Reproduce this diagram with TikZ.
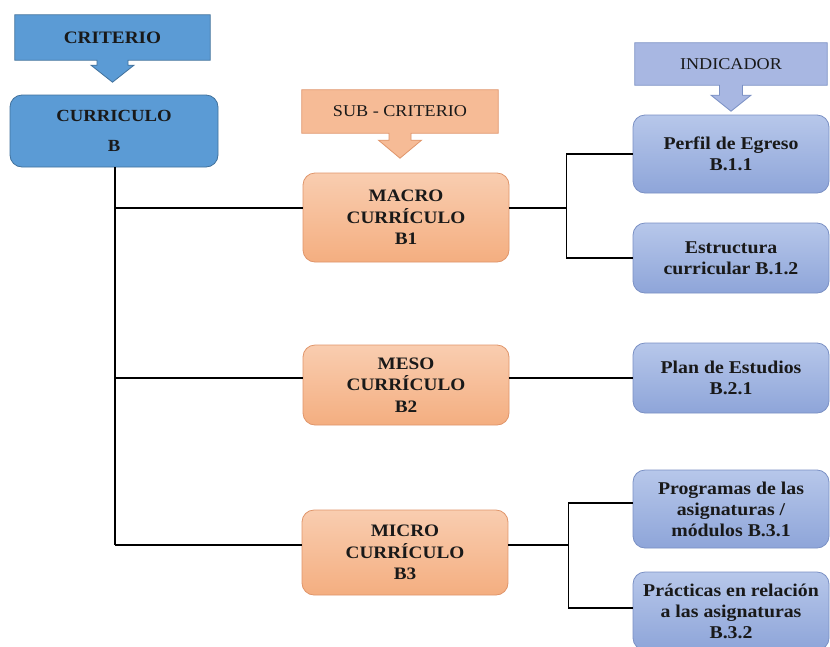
\documentclass[tikz,border=0pt]{standalone}
\usepackage{fontspec}
\setmainfont{Liberation Serif}[FakeStretch=1.1]
\usetikzlibrary{calc,backgrounds}
\definecolor{critblue}{HTML}{5B9BD5}
\definecolor{critedge}{HTML}{41719C}
\definecolor{orgtop}{HTML}{F9CDB0}
\definecolor{orgbot}{HTML}{F4AE80}
\definecolor{orgedge}{HTML}{E0956A}
\definecolor{subfill}{HTML}{F6BB96}
\definecolor{bluetop}{HTML}{B7C7EA}
\definecolor{bluebot}{HTML}{8EA5D9}
\definecolor{blueedge}{HTML}{7A90C4}
\definecolor{indfill}{HTML}{A8B7E2}
\newcommand\myarrowcallout[6]{%
  \begin{pgfonlayer}{background}
  \draw[#6] (#1.north west) -- (#1.north east) -- (#1.south east)
    -- ($(#1.south)+(#2,0)$) -- ++(0,#3) -- ($(#1.south)+(#4,#3)$)
    -- ($(#1.south)+(0,#3+#5)$) -- ($(#1.south)+(-#4,#3)$)
    -- ($(#1.south)+(-#2,#3)$) -- ($(#1.south)+(-#2,0)$)
    -- (#1.south west) -- cycle;
  \end{pgfonlayer}}
\tikzset{
  x=1pt, y=-1pt,
  lbl/.style={inner sep=0pt, align=center, text=black!90},
  callbox/.style={lbl, minimum width=#1},
  boxbase/.style={rounded corners=12pt, draw, line width=0.8pt, inner sep=0pt, align=center, text=black!90},
  currbox/.style={boxbase, fill=critblue, draw=critedge, minimum width=208pt, minimum height=72pt,
     font=\bfseries\fontsize{17}{21}\selectfont},
  subbox/.style={boxbase, top color=orgtop, bottom color=orgbot, draw=orgedge, minimum width=206pt,
     font=\bfseries\fontsize{17.5}{21.5}\selectfont},
  indbox/.style={boxbase, top color=bluetop, bottom color=bluebot, draw=blueedge, minimum width=196pt,
     font=\bfseries\fontsize{18}{21}\selectfont},
  conn/.style={draw=black, line width=1.6pt},
}
\begin{document}
\begin{tikzpicture}
\useasboundingbox (0,0) rectangle (830,646);
\begin{pgfonlayer}{background}
\fill[white] (0,0) rectangle (830,646);
\end{pgfonlayer}

% callouts
\node[callbox=195pt, minimum height=45pt, font=\bfseries\fontsize{17.5}{19}\selectfont] (crit) at (112.5,37.5) {CRITERIO};
\myarrowcallout{crit}{15.5}{5}{21.5}{17}{fill=critblue, draw=critedge, line width=0.8pt}

\node[callbox=196pt, minimum height=43pt, font=\fontsize{16.5}{19}\selectfont] (subc) at (400,111.5) {SUB - CRITERIO};
\myarrowcallout{subc}{11}{7}{21.5}{18}{fill=subfill, draw=orgedge, line width=0.8pt}

\node[callbox=192pt, minimum height=42pt, font=\fontsize{16.5}{19}\selectfont] (indc) at (731,64) {INDICADOR};
\myarrowcallout{indc}{11.5}{10}{20}{16}{fill=indfill, draw=blueedge, line width=0.8pt}

% main boxes
\node[currbox] (curr) at (114,131) {CURRICULO\\[9pt]B};

\node[subbox, minimum height=89pt] (macro) at (406,217.5) {MACRO\\CURRÍCULO\\B1};
\node[subbox, minimum height=80pt] (meso) at (406,385) {MESO\\CURRÍCULO\\B2};
\node[subbox, minimum height=85pt] (micro) at (405,552.5) {MICRO\\CURRÍCULO\\B3};

\node[indbox, minimum height=78pt] (perfil) at (731,154) {Perfil de Egreso\\B.1.1};
\node[indbox, minimum height=70pt] (estr) at (731,258) {Estructura\\curricular B.1.2};
\node[indbox, minimum height=70pt] (plan) at (731,378) {Plan de Estudios\\B.2.1};
\node[indbox, minimum height=78pt] (prog) at (731,509) {Programas de las\\asignaturas /\\módulos B.3.1};
\node[indbox, minimum height=78pt] (prac) at (731,611) {Prácticas en relación\\a las asignaturas\\B.3.2};

% left trunk
\coordinate (tb) at ($(curr.south)+(1,0)$);
\draw[conn] (tb) -- (tb |- {$(micro.west)+(0,-7.5)$});
\draw[conn] (tb |- {$(macro.west)+(0,-9.5)$}) -- ($(macro.west)+(0,-9.5)$);
\draw[conn] (tb |- {$(meso.west)+(0,-7)$}) -- ($(meso.west)+(0,-7)$);
\draw[conn] (tb |- {$(micro.west)+(0,-7.5)$}) -- ($(micro.west)+(0,-7.5)$);

% right side: macro
\coordinate (mr) at ($(macro.east)+(0,-9.5)$);
\coordinate (mj) at ($(mr)+(57,0)$);
\draw[conn] (mr) -- (mj);
\draw[conn] (mj |- perfil.west) -- (mj |- estr.west);
\draw[conn] (mj |- perfil.west) -- (perfil.west);
\draw[conn] (mj |- estr.west) -- (estr.west);

% meso
\draw[conn] (meso.east |- plan.west) -- (plan.west);

% micro
\coordinate (ir) at ($(micro.east)+(0,-7.5)$);
\coordinate (ij) at ($(ir)+(60,0)$);
\draw[conn] (ir) -- (ij);
\draw[conn] ($(ij |- prog.west)+(0,-6)$) -- ($(ij |- prac.west)+(0,-3)$);
\draw[conn] ($(ij |- prog.west)+(0,-6)$) -- ($(prog.west)+(0,-6)$);
\draw[conn] ($(ij |- prac.west)+(0,-3)$) -- ($(prac.west)+(0,-3)$);
\end{tikzpicture}
\end{document}
